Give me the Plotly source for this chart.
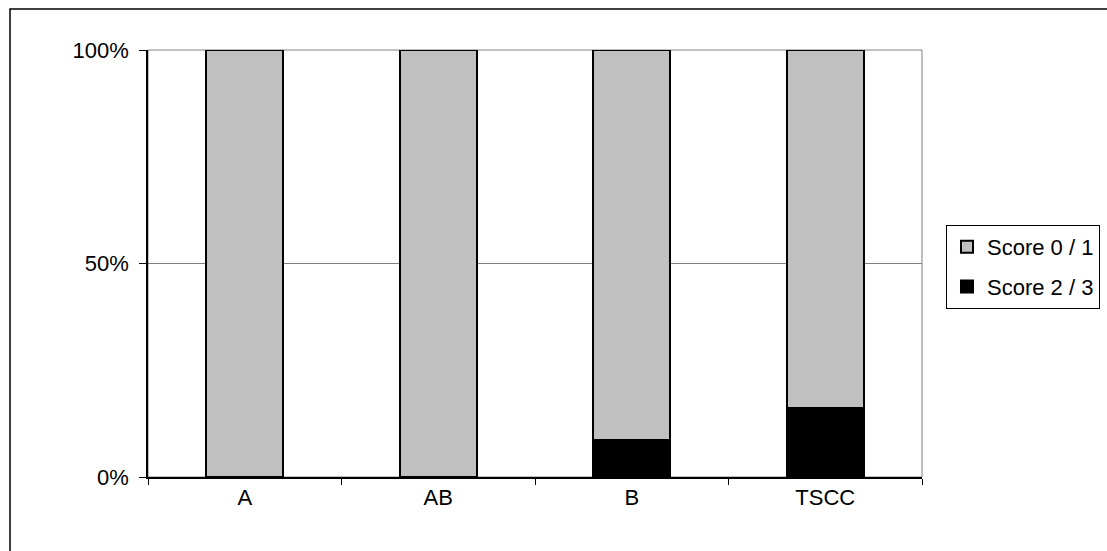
import plotly.graph_objects as go

categories = ["A", "AB", "B", "TSCC"]
score_01 = [100, 100, 91.3, 83.9]
score_23 = [0, 0, 8.7, 16.1]
y_ticks = [0, 50, 100]
y_tick_labels = ["0%", "50%", "100%"]

FONT = "Liberation Sans, Arial, sans-serif"

fig = go.Figure()
fig.add_trace(go.Bar(
    x=categories, y=score_23, name="Score 2 / 3", legendgroup="g2", legendrank=2,
    marker=dict(color="#000000", line=dict(color="#000000", width=2)),
    width=0.4,
))
fig.add_trace(go.Bar(
    x=categories, y=score_01, name="Score 0 / 1", legendgroup="g1", legendrank=1,
    marker=dict(color="#C0C0C0", line=dict(color="#000000", width=2)),
    width=0.4,
))

# outer chart border and plot-area border
fig.add_shape(type="rect", xref="paper", yref="paper",
              x0=(10 - 148) / 774, x1=(1112 - 148) / 774,
              y0=(477 - 560) / 427, y1=(477 - 9) / 427,
              line=dict(color="#000000", width=1.5), layer="below")
fig.add_shape(type="rect", xref="paper", yref="paper",
              x0=0, x1=1, y0=0, y1=1,
              line=dict(color="#808080", width=1), layer="below")

fig.update_layout(
    width=1107, height=551,
    margin=dict(l=148, r=185, t=50, b=74, autoexpand=False),
    paper_bgcolor="white", plot_bgcolor="white",
    barmode="stack",
    bargap=0.6,
    font=dict(family=FONT, size=22, color="#000000"),
    showlegend=True,
    legend=dict(
        x=1.031, y=0.59, xanchor="left", yanchor="top",
        bordercolor="#000000", borderwidth=1,
        font=dict(family=FONT, size=22, color="#000000"),
        traceorder="grouped", tracegroupgap=8,
        itemwidth=30,
    ),
)
fig.update_xaxes(
    type="category", showline=True, linecolor="#000000", linewidth=1.5,
    ticks="outside", tickson="boundaries", ticklen=6, tickcolor="#000000",
    showgrid=False, zeroline=False,
)
fig.update_yaxes(
    range=[0, 100], tickvals=y_ticks, ticktext=y_tick_labels,
    showline=True, linecolor="#000000", linewidth=1.5,
    ticks="outside", ticklen=7, tickcolor="#000000",
    showgrid=True, gridcolor="#808080", gridwidth=1, zeroline=False,
    ticklabelstandoff=6,
)

fig.write_html("out.html")
